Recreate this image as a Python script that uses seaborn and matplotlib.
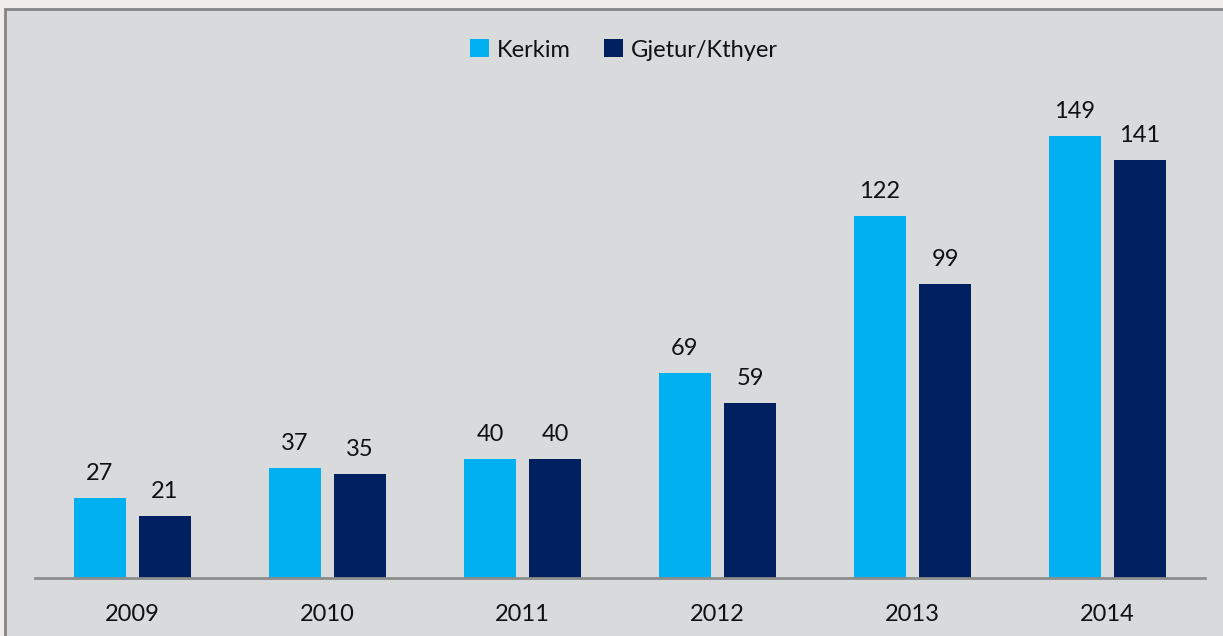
import pandas as pd
import seaborn as sns
import matplotlib.pyplot as plt
from matplotlib.patches import Rectangle

# data
years = ["2009", "2010", "2011", "2012", "2013", "2014"]
kerkim = [27, 37, 40, 69, 122, 149]
gjetur = [21, 35, 40, 59, 99, 141]
series_names = ["Kerkim", "Gjetur/Kthyer"]

df = pd.DataFrame({
    "year": years * 2,
    "value": kerkim + gjetur,
    "series": [series_names[0]] * len(years) + [series_names[1]] * len(years),
})

sns.set_style("white")
plt.rcParams["font.family"] = ["Lato", "DejaVu Sans"]

W, H = 1223, 636
fig = plt.figure(figsize=(W / 100, H / 100), dpi=100)
fig.patch.set_facecolor("#eeedea")

# gray panel behind the chart
fig.patches.append(Rectangle((5 / W, -0.1), 1.2, (H - 9) / H + 0.1, transform=fig.transFigure,
                             facecolor="#d9dadc", edgecolor="#848484", linewidth=2, zorder=-5))

ax = fig.add_axes([35 / W, (H - 578) / H, 1170 / W, (578 - 30) / H])
ax.set_facecolor("none")
ax.set_zorder(2)

sns.barplot(data=df, x="year", y="value", hue="series",
            palette=["#00b0f0", "#002060"], width=0.667, gap=0.2,
            saturation=1, linewidth=0, ax=ax)

for c in ax.containers:
    ax.bar_label(c, padding=10, fontsize=17, color="#111111")

ax.set_ylim(0, (578 - 30) / 2.966)
ax.set_xlim(-0.5, 5.5)
ax.set_xlabel("")
ax.set_ylabel("")
ax.set_yticks([])
ax.tick_params(axis="x", length=0, labelsize=17, pad=19, colors="#111111")
for s in ["top", "right", "left"]:
    ax.spines[s].set_visible(False)
ax.spines["bottom"].set_color("#8c8c8c")
ax.spines["bottom"].set_linewidth(2)

ax.legend(loc="center", bbox_to_anchor=((624 - 35) / 1170, (578 - 50) / (578 - 30)), ncol=2,
          frameon=False, fontsize=17, handlelength=0.8, handleheight=0.8, handletextpad=0.35,
          columnspacing=1.4, labelcolor="#111111")

fig.savefig("out.png", dpi=100, facecolor=fig.get_facecolor())
